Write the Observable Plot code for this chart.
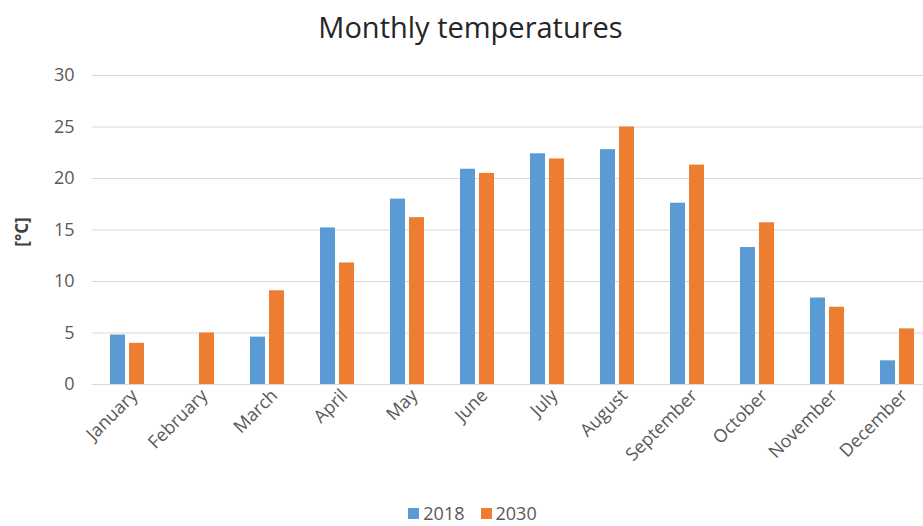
<!DOCTYPE html>
<html>
<head>
<meta charset="utf-8">
<script src="https://cdn.jsdelivr.net/npm/d3@7"></script>
<script src="https://cdn.jsdelivr.net/npm/@observablehq/plot@0.6"></script>
<style>
  html, body { margin: 0; padding: 0; background: #fff; }
  body { width: 923px; height: 526px; overflow: hidden; font-family: "Open Sans", "Noto Sans", sans-serif; }
  #title { height: 55px; line-height: 54px; text-align: center; font-size: 29px; color: #262626; padding-left: 18px; }
  #legend { display: flex; justify-content: center; align-items: center; gap: 16px; font-size: 18px; line-height: 24px; height: 24px; color: #595959; padding-top: 11px; padding-left: 22px; }
  #legend span.sw { display: inline-block; width: 11px; height: 11px; margin-right: 4px; }
  #legend .item { display: flex; align-items: center; }
</style>
</head>
<body>
<div id="title">Monthly temperatures</div>
<div id="chart"></div>
<div id="legend"></div>
<script>
const months = ["January","February","March","April","May","June","July","August","September","October","November","December"];
const years = ["2018","2030"];
const t2018 = [4.8, null, 4.6, 15.2, 18.0, 20.9, 22.4, 22.8, 17.6, 13.3, 8.4, 2.3];
const t2030 = [4.0, 5.0, 9.1, 11.8, 16.2, 20.5, 21.9, 25.0, 21.3, 15.7, 7.5, 5.4];
const yTicks = [0, 5, 10, 15, 20, 25, 30];
const colors = ["#5B9BD5", "#ED7D31"];

const data = [];
months.forEach((m, i) => {
  if (t2018[i] != null) data.push({month: m, year: "2018", value: t2018[i]});
  if (t2030[i] != null) data.push({month: m, year: "2030", value: t2030[i]});
});

const chart = Plot.plot({
  width: 923,
  height: 435,
  marginTop: 20,
  marginBottom: 106,
  marginLeft: 89,
  marginRight: -11,
  style: {fontFamily: "'Open Sans', 'Noto Sans', sans-serif", fontSize: "15px", color: "#595959", background: "#fff", overflow: "visible", display: "block"},
  fx: {domain: months, padding: 0, label: null, axis: null},
  x: {domain: years, axis: null, paddingInner: 0.2, paddingOuter: 0.86},
  y: {domain: [0, 30], ticks: yTicks, label: null, tickSize: 0, tickPadding: 18, tickFormat: d => d},
  color: {domain: years, range: colors},
  marks: [
    Plot.ruleY(yTicks, {stroke: "#d9d9d9", strokeWidth: 1.2}),
    Plot.barY(data, {fx: "month", x: "year", y: "value", fill: "year"}),
    Plot.axisY({ticks: yTicks, tickSize: 0, tickPadding: 18, fontSize: 18, label: null, tickFormat: d => d}),
    Plot.axisFx({anchor: "bottom", tickRotate: -45, tickSize: 0, tickPadding: 8, fontSize: 18, label: null, dx: 7})
  ]
});
document.getElementById("chart").appendChild(chart);

// y-axis label
const svg = d3.select(chart);
svg.append("text")
  .attr("transform", "translate(28,177) rotate(-90)")
  .attr("text-anchor", "middle")
  .attr("font-size", 17)
  .attr("font-weight", "bold")
  .attr("fill", "#404040")
  .attr("font-family", "'Open Sans', 'Noto Sans', sans-serif")
  .text("[°C]");

const legend = document.getElementById("legend");
years.forEach((y, i) => {
  const it = document.createElement("div");
  it.className = "item";
  it.innerHTML = `<span class="sw" style="background:${colors[i]}"></span>${y}`;
  legend.appendChild(it);
});
</script>
</body>
</html>
